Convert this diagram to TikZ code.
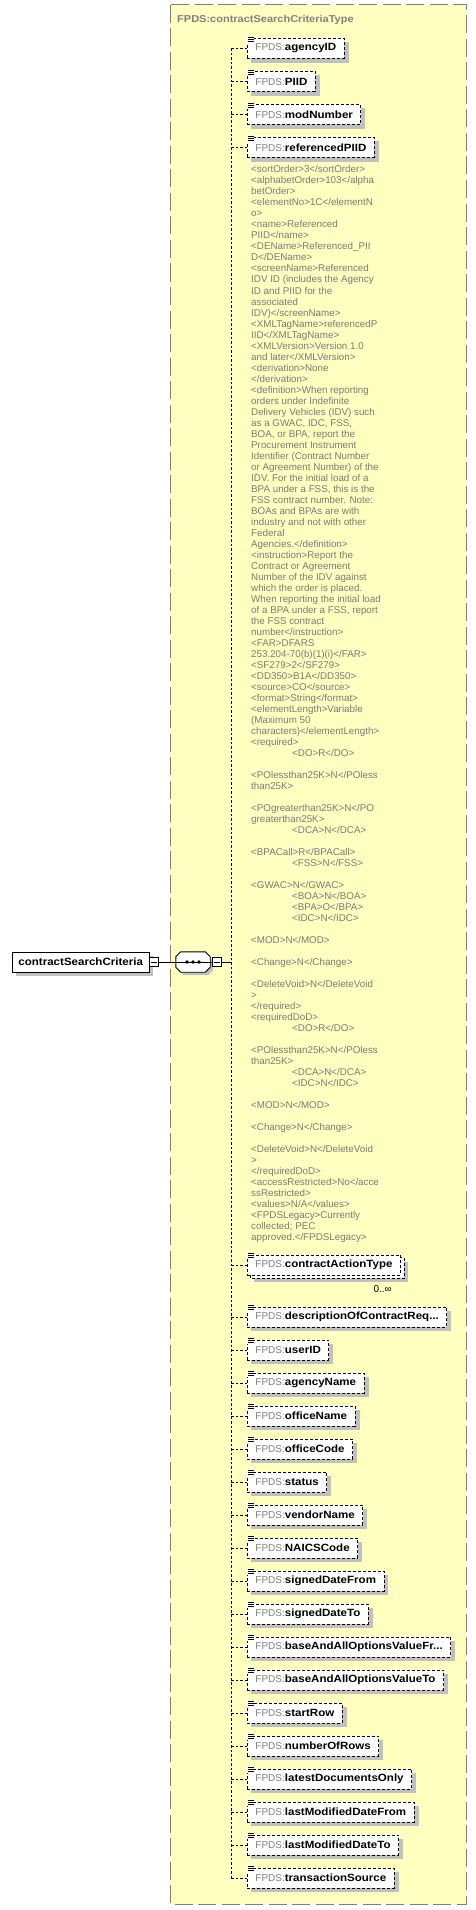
\documentclass[tikz,border=0pt]{standalone}
\usepackage{fontspec}
\setmainfont{Liberation Sans}
\newfontfamily\bnfont[FakeStretch=1.1]{Liberation Sans}
\pgfdeclarelayer{back}
\pgfdeclarelayer{shadow}
\pgfdeclarelayer{mid}
\pgfsetlayers{back,shadow,mid,main}
\definecolor{typefill}{HTML}{FFFFC0}
\definecolor{typeborder}{HTML}{808080}
\definecolor{shadowc}{HTML}{C0C0C0}
\definecolor{annotc}{HTML}{7A7A7A}
\definecolor{prefixc}{HTML}{808080}
\tikzset{
 elembox/.style={draw, dash pattern=on 3pt off 2pt, line width=0.9pt, fill=white, anchor=west, minimum height=20pt, inner xsep=8pt, inner ysep=0pt},
 rootbox/.style={draw, line width=0.9pt, fill=white, anchor=west, minimum height=20pt, inner xsep=6pt, inner ysep=0pt, font=\bnfont\bfseries\fontsize{10.5}{12}\selectfont},
 minusbox/.style={draw, line width=0.8pt, fill=white, minimum size=9pt, inner sep=0pt, anchor=west},
 conn/.style={dash pattern=on 2.5pt off 2pt, line width=0.9pt},
 solidconn/.style={line width=0.9pt},
 annot/.style={anchor=base west, inner sep=0pt, text=annotc, font=\fontsize{9.8}{11}\selectfont},
 titlestyle/.style={anchor=base west, inner sep=0pt, text=typeborder, font=\bnfont\bfseries\fontsize{10}{12}\selectfont},
}
\newcommand{\elabel}[1]{{\fontsize{10}{12}\selectfont\textcolor{prefixc}{FPDS:}}{\bnfont\bfseries\fontsize{10.5}{12}\selectfont #1}}
\newcommand{\elemicon}[1]{%
  \fill[white] ([xshift=-0.5pt,yshift=1.2pt]#1.north west) rectangle ([xshift=7pt,yshift=-4.5pt]#1.north west);
  \draw[line width=0.8pt] ([xshift=0.5pt,yshift=0.7pt]#1.north west) -- ++(6,0);
  \draw[line width=0.8pt] ([xshift=0.5pt,yshift=-1.3pt]#1.north west) -- ++(6,0);
  \draw[line width=0.8pt] ([xshift=0.5pt,yshift=-3.3pt]#1.north west) -- ++(6,0);
}
\newcommand{\elem}[3]{%
  \node[elembox] (#1) at (247,#2) {\elabel{#3}};
  \coordinate (v#1) at (231,#2);
  \draw[conn] (v#1) -- (#1.west);
  \begin{pgfonlayer}{shadow}
  \fill[shadowc] ([xshift=4pt,yshift=-4pt]#1.south west) rectangle ([xshift=4pt,yshift=-4pt]#1.north east);
  \end{pgfonlayer}
  \elemicon{#1}
}
\newcommand{\an}[2]{\node[annot] (a#1) at (251,{173+(#1-1)*11}) {#2};}
\newcommand{\ani}[2]{\node[annot] (a#1) at (292,{173+(#1-1)*11}) {#2};}
\begin{document}
\begin{tikzpicture}[x=1pt,y=-1pt]
\useasboundingbox (0,0) rectangle (476,1910);
% outer type box
\begin{pgfonlayer}{back}
\fill[white] (0,0) rectangle (476,1910);
\draw[fill=typefill, draw=typeborder, line width=1pt, dash pattern=on 18pt off 5.5pt] (170,5) rectangle (466,1904);
\end{pgfonlayer}
\node[titlestyle] (title) at (177,23) {FPDS:contractSearchCriteriaType};

% root element
\node[rootbox] (root) at (12,962) {contractSearchCriteria};
\begin{pgfonlayer}{shadow}
\fill[shadowc] ([xshift=4pt,yshift=-4pt]root.south west) rectangle ([xshift=4pt,yshift=-4pt]root.north east);
\end{pgfonlayer}
\node[minusbox] (rootm) at (root.east) {};
\draw[line width=0.8pt] ([xshift=2pt]rootm.west) -- ([xshift=-2pt]rootm.east);

% sequence compositor
\node[minimum width=34pt, minimum height=20pt, inner sep=0pt] (seq) at (193,962) {};
\begin{pgfonlayer}{shadow}
\fill[shadowc] ([xshift=8pt,yshift=-3pt]seq.north west) -- ([xshift=-2pt,yshift=-3pt]seq.north east) -- ([xshift=3pt,yshift=-8pt]seq.north east) -- ([xshift=3pt,yshift=2pt]seq.south east) -- ([xshift=-2pt,yshift=-3pt]seq.south east) -- ([xshift=8pt,yshift=-3pt]seq.south west) -- ([xshift=3pt,yshift=2pt]seq.south west) -- ([xshift=3pt,yshift=-8pt]seq.north west) -- cycle;
\end{pgfonlayer}
\draw[line width=0.9pt, fill=white] ([xshift=5pt]seq.north west) -- ([xshift=-5pt]seq.north east) -- ([yshift=-5pt]seq.north east) -- ([yshift=5pt]seq.south east) -- ([xshift=-5pt]seq.south east) -- ([xshift=5pt]seq.south west) -- ([yshift=5pt]seq.south west) -- ([yshift=-5pt]seq.north west) -- cycle;
\draw[line width=0.9pt] (seq.west) -- (seq.east);
\fill ([xshift=-6pt]seq.center) circle (1.8pt);
\fill (seq.center) circle (1.8pt);
\fill ([xshift=6pt]seq.center) circle (1.8pt);
\node[minusbox] (seqm) at ([xshift=1.5pt]seq.east) {};
\draw[line width=0.8pt] ([xshift=2pt]seqm.west) -- ([xshift=-2pt]seqm.east);

\draw[solidconn] (rootm.east) -- (seq.west);
\draw[solidconn] (seq.east) -- (seqm.west);
\coordinate (vseq) at (231,962);
\coordinate (vtop) at (231,48.5);
\coordinate (vbot) at (231,1878);
\draw[solidconn] (seqm.east) -- (vseq);
\draw[conn] (vtop) -- (vbot);

% elements
\elem{agencyID}{48.5}{agencyID}
\elem{PIID}{81.5}{PIID}
\elem{modNumber}{114.5}{modNumber}
\elem{referencedPIID}{147.5}{referencedPIID}

% annotation
\an{1}{<sortOrder>3</sortOrder>}
\an{2}{<alphabetOrder>103</alpha}
\an{3}{betOrder>}
\an{4}{<elementNo>1C</elementN}
\an{5}{o>}
\an{6}{<name>Referenced}
\an{7}{PIID</name>}
\an{8}{<DEName>Referenced\_PII}
\an{9}{D</DEName>}
\an{10}{<screenName>Referenced}
\an{11}{IDV ID (includes the Agency}
\an{12}{ID and PIID for the}
\an{13}{associated}
\an{14}{IDV)</screenName>}
\an{15}{<XMLTagName>referencedP}
\an{16}{IID</XMLTagName>}
\an{17}{<XMLVersion>Version 1.0}
\an{18}{and later</XMLVersion>}
\an{19}{<derivation>None}
\an{20}{</derivation>}
\an{21}{<definition>When reporting}
\an{22}{orders under Indefinite}
\an{23}{Delivery Vehicles (IDV) such}
\an{24}{as a GWAC, IDC, FSS,}
\an{25}{BOA, or BPA, report the}
\an{26}{Procurement Instrument}
\an{27}{Identifier (Contract Number}
\an{28}{or Agreement Number) of the}
\an{29}{IDV. For the initial load of a}
\an{30}{BPA under a FSS, this is the}
\an{31}{FSS contract number. Note:}
\an{32}{BOAs and BPAs are with}
\an{33}{industry and not with other}
\an{34}{Federal}
\an{35}{Agencies.</definition>}
\an{36}{<instruction>Report the}
\an{37}{Contract or Agreement}
\an{38}{Number of the IDV against}
\an{39}{which the order is placed.}
\an{40}{When reporting the initial load}
\an{41}{of a BPA under a FSS, report}
\an{42}{the FSS contract}
\an{43}{number</instruction>}
\an{44}{<FAR>DFARS}
\an{45}{253.204-70(b)(1)(i)</FAR>}
\an{46}{<SF279>2</SF279>}
\an{47}{<DD350>B1A</DD350>}
\an{48}{<source>CO</source>}
\an{49}{<format>String</format>}
\an{50}{<elementLength>Variable}
\an{51}{(Maximum 50}
\an{52}{characters)</elementLength>}
\an{53}{<required>}
\ani{54}{<DO>R</DO>}
\an{56}{<POlessthan25K>N</POless}
\an{57}{than25K>}
\an{59}{<POgreaterthan25K>N</PO}
\an{60}{greaterthan25K>}
\ani{61}{<DCA>N</DCA>}
\an{63}{<BPACall>R</BPACall>}
\ani{64}{<FSS>N</FSS>}
\an{66}{<GWAC>N</GWAC>}
\ani{67}{<BOA>N</BOA>}
\ani{68}{<BPA>O</BPA>}
\ani{69}{<IDC>N</IDC>}
\an{71}{<MOD>N</MOD>}
\an{73}{<Change>N</Change>}
\an{75}{<DeleteVoid>N</DeleteVoid}
\an{76}{>}
\an{77}{</required>}
\an{78}{<requiredDoD>}
\ani{79}{<DO>R</DO>}
\an{81}{<POlessthan25K>N</POless}
\an{82}{than25K>}
\ani{83}{<DCA>N</DCA>}
\ani{84}{<IDC>N</IDC>}
\an{86}{<MOD>N</MOD>}
\an{88}{<Change>N</Change>}
\an{90}{<DeleteVoid>N</DeleteVoid}
\an{91}{>}
\an{92}{</requiredDoD>}
\an{93}{<accessRestricted>No</acce}
\an{94}{ssRestricted>}
\an{95}{<values>N/A</values>}
\an{96}{<FPDSLegacy>Currently}
\an{97}{collected; PEC}
\an{98}{approved.</FPDSLegacy>}

% contractActionType (multiple occurrence)
\node[elembox] (contractActionType) at (247,1265) {\elabel{contractActionType}};
\coordinate (vcontractActionType) at (231,1265);
\draw[conn] (vcontractActionType) -- (contractActionType.west);
\begin{pgfonlayer}{shadow}
\fill[shadowc] ([xshift=7pt,yshift=-7pt]contractActionType.south west) rectangle ([xshift=7pt,yshift=-7pt]contractActionType.north east);
\end{pgfonlayer}
\begin{pgfonlayer}{mid}
\draw[fill=white, dash pattern=on 3pt off 2pt, line width=0.9pt] ([xshift=3pt,yshift=-3pt]contractActionType.south west) rectangle ([xshift=3pt,yshift=-3pt]contractActionType.north east);
\end{pgfonlayer}
\elemicon{contractActionType}
\node[anchor=base east, inner sep=0pt, font=\fontsize{10}{12}\selectfont] (catmult) at (392,1292) {0..∞};

\elem{descriptionOfContractReq}{1317}{descriptionOfContractReq...}
\elem{userID}{1350}{userID}
\elem{agencyName}{1383}{agencyName}
\elem{officeName}{1416}{officeName}
\elem{officeCode}{1449}{officeCode}
\elem{status}{1482}{status}
\elem{vendorName}{1515}{vendorName}
\elem{NAICSCode}{1548}{NAICSCode}
\elem{signedDateFrom}{1581}{signedDateFrom}
\elem{signedDateTo}{1614}{signedDateTo}
\elem{baseFr}{1647}{baseAndAllOptionsValueFr...}
\elem{baseTo}{1680}{baseAndAllOptionsValueTo}
\elem{startRow}{1713}{startRow}
\elem{numberOfRows}{1746}{numberOfRows}
\elem{latestDocumentsOnly}{1779}{latestDocumentsOnly}
\elem{lastModifiedDateFrom}{1812}{lastModifiedDateFrom}
\elem{lastModifiedDateTo}{1845}{lastModifiedDateTo}
\elem{transactionSource}{1878}{transactionSource}
\end{tikzpicture}
\end{document}
